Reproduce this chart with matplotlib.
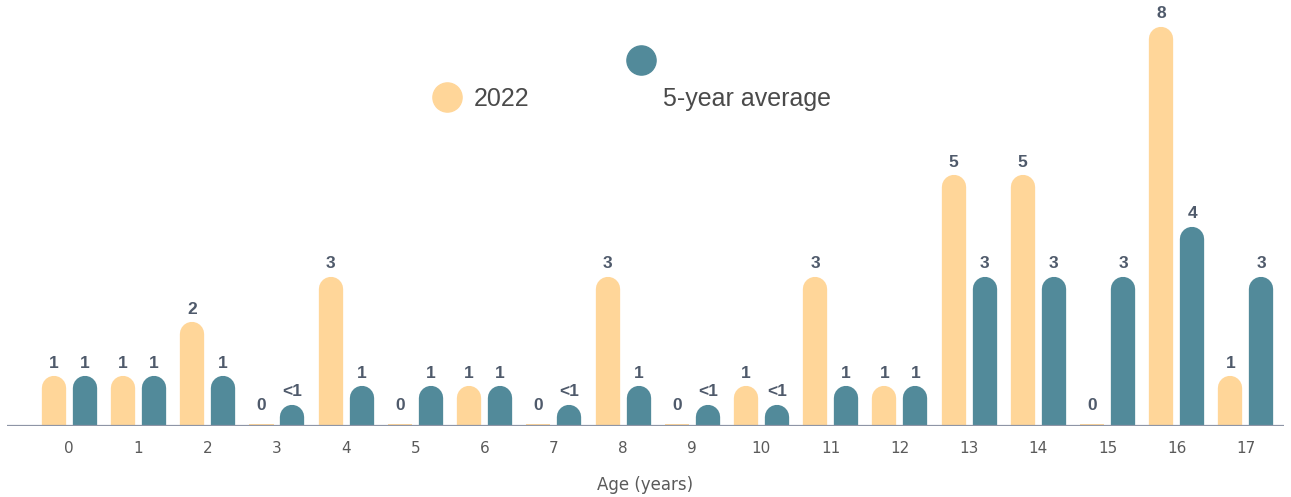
import numpy as np
import matplotlib
matplotlib.use("Agg")
import matplotlib.pyplot as plt
from matplotlib.lines import Line2D

ages = [str(a) for a in range(18)]
# bar heights as drawn
vals_2022 = [1.0, 1.0, 2.08, 0.04, 3.0, 0.04, 0.8, 0.04, 3.0, 0.04,
             0.8, 3.0, 0.8, 5.03, 5.03, 0.04, 8.0, 1.0]
vals_avg = [1.0, 1.0, 1.0, 0.42, 0.8, 0.8, 0.8, 0.42, 0.8, 0.42,
            0.42, 0.8, 0.8, 3.0, 3.0, 3.0, 4.0, 3.0]
# labels printed above the bars
labels_2022 = ["1", "1", "2", "0", "3", "0", "1", "0", "3", "0",
               "1", "3", "1", "5", "5", "0", "8", "1"]
labels_avg = ["1", "1", "1", "<1", "1", "1", "1", "<1", "1", "<1",
              "<1", "1", "1", "3", "3", "3", "4", "3"]

c_2022 = "#ffd699"
c_avg = "#528a9a"
c_text = "#4f5a6b"
c_axis = "#8e95a6"

W, H = 1291, 497
fig = plt.figure(figsize=(W / 100, H / 100), dpi=100)
# axes: x from 7 to 1284 px, y baseline at 426 px, top at 2 px
ax = fig.add_axes([7 / W, (H - 426) / H, (1284 - 7) / W, (426 - 2) / H])
ax.set_xlim(-0.9, 17.55)
ax.set_ylim(0, 8.5)

x = np.arange(len(ages))
off = 15.5 / 69.2
bar_w = 24.3 / 69.2
bar_w_px = 24.3

fig.canvas.draw()
px_per_unit = ax.transData.transform((0, 1))[1] - ax.transData.transform((0, 0))[1]
ry = (bar_w_px / 2) / px_per_unit
lw_pt = bar_w_px * 72 / 100


def draw_bars(xs, vals, labels, color):
    for xi, v, lab in zip(xs, vals, labels):
        if v > ry:
            ax.plot([xi, xi], [0, v - ry], color=color, lw=lw_pt,
                    solid_capstyle="round", zorder=2)
        else:
            ax.bar(xi, v, width=bar_w, color=color, zorder=2)
        ax.annotate(lab, (xi, v), xytext=(0, 4 if v > ry else 8),
                    textcoords="offset points", ha="center", va="bottom",
                    fontsize=12.5, fontweight="bold", color=c_text,
                    family="Liberation Sans", zorder=3)


draw_bars(x - off, vals_2022, labels_2022, c_2022)
draw_bars(x + off, vals_avg, labels_avg, c_avg)

ax.axhline(0, color=c_axis, lw=1.6, zorder=4)
for s in ax.spines.values():
    s.set_visible(False)
ax.set_yticks([])
ax.set_xticks(x)
ax.set_xticklabels(ages, family="DejaVu Sans", fontsize=11, color="#5a5a5a")
ax.tick_params(axis="x", length=0, pad=11)
ax.set_xlabel("Age (years)", family="DejaVu Sans", fontsize=12, color="#5a5a5a",
              labelpad=14)

# legend
fig.add_artist(Line2D([447 / W], [1 - 97 / H], marker="o", ms=21,
                      color=c_2022, transform=fig.transFigure))
fig.add_artist(Line2D([641 / W], [1 - 60 / H], marker="o", ms=21,
                      color=c_avg, transform=fig.transFigure))
fig.text(474 / W, 1 - 99 / H, "2022", fontsize=18, color="#4a4a4a",
         family="Liberation Sans", va="center", ha="left")
fig.text(663 / W, 1 - 99 / H, "5-year average", fontsize=18, color="#4a4a4a",
         family="Liberation Sans", va="center", ha="left")

fig.savefig("out.png", dpi=100)
